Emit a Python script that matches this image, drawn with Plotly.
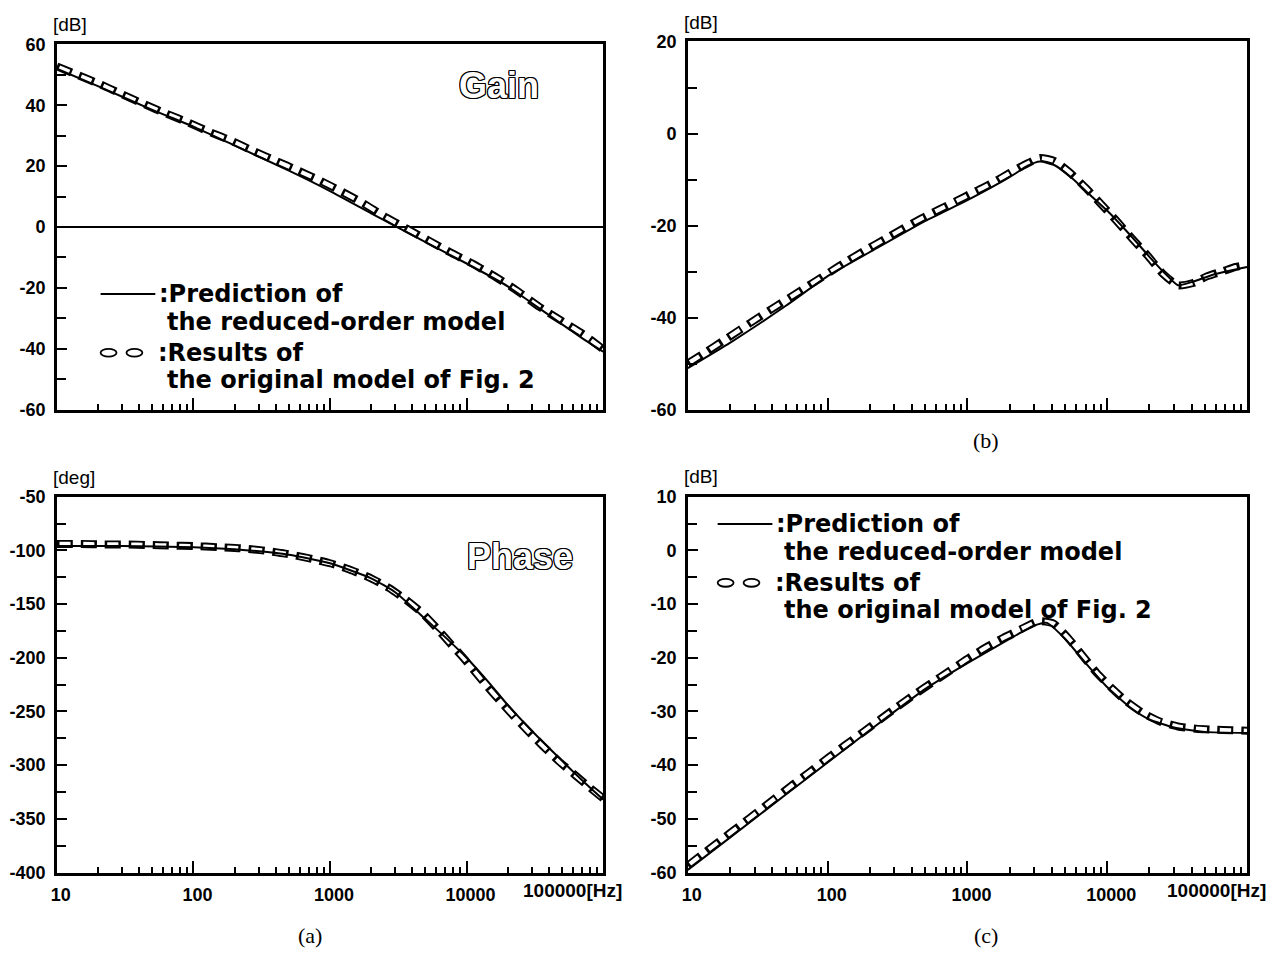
import plotly.graph_objects as go

# ---------------- data ----------------
# (a) Gain [dB]
gain_freq = [10, 20, 50, 100, 200, 500, 1000, 2000, 3000, 5000, 10000, 20000, 30000, 50000, 70000, 100000]
gain_pred = [52, 46.3, 38.5, 33, 26.8, 18.5, 11.8, 4.5, 0.3, -5, -12, -19.5, -25, -32, -36.5, -41]
gain_orig_freq = [10, 14.5, 21, 30, 44, 63, 92, 130, 190, 280, 400, 580, 840, 1200, 1750, 2500,
                  3700, 5300, 7700, 11000, 16000, 23000, 34000, 49000, 71000, 100000]
gain_orig = [52.8, 49.8, 46.8, 43.6, 40.3, 37.3, 34.3, 31.3, 28.3, 24.8, 21.8, 18.6, 15.3, 11.8, 7.8, 3.5,
             -0.7, -4.5, -8.5, -12, -16.2, -20.7, -26.2, -30.7, -35.2, -40.2]

# (a) Phase [deg]
phase_freq = [10, 30, 100, 200, 500, 1000, 2000, 3000, 5000, 7000, 10000, 15000, 20000, 30000, 50000, 70000, 100000]
phase_pred = [-96, -96, -97, -99, -104, -112, -126, -139, -164, -181, -200, -225, -244, -268, -296, -314, -332]
phase_orig_freq = [10, 15, 22, 32, 47, 68, 100, 150, 220, 320, 470, 680, 1000, 1400, 2000, 2700, 3600,
                   4700, 6000, 7500, 9300, 11500, 14000, 17500, 22000, 28000, 36000, 47000, 62000, 80000, 100000]
phase_orig = [-94, -94, -94.5, -94.5, -95, -95.5, -96, -97, -98, -100, -103, -107, -112, -118, -126, -135, -146,
              -158, -172, -186, -199, -213, -226, -240, -254, -268, -282, -296, -309, -321, -331]

# (b) [dB]
b_freq = [10, 20, 50, 100, 200, 500, 1000, 2000, 2700, 3300, 4200, 5500, 7500, 10000, 15000, 20000,
          27000, 32000, 40000, 60000, 100000]
b_pred = [-51, -45.5, -37.5, -31, -25.8, -19, -14.5, -9.5, -7, -6.1, -6.9, -9.5, -13.3, -16.8, -22.5, -26.8,
          -31, -33, -32.3, -30.5, -29]
b_orig_freq = [10, 13.5, 18, 24, 32, 43, 58, 78, 105, 140, 190, 255, 340, 460, 620, 830, 1100, 1500,
               2000, 2600, 3300, 4200, 5400, 7000, 9000, 11500, 15000, 19500, 25000, 32000, 41000,
               52000, 66000, 83000, 100000]
b_orig = [-50, -47.5, -45, -42.5, -40, -37.5, -35, -32.5, -30, -27.6, -25.2, -23, -20.8, -18.6, -16.6,
          -14.7, -12.8, -10.8, -8.6, -6.7, -5.3, -6, -8.5, -11.8, -15.3, -18.8, -22.8, -26.6, -30.5, -33,
          -32.5, -31, -30, -29, -28.5]

# (c) [dB]
c_freq = [10, 20, 50, 100, 200, 500, 1000, 2000, 3000, 3700, 5000, 7000, 10000, 15000, 20000, 30000, 50000, 100000]
c_pred = [-59.5, -53.5, -45.5, -39.5, -33.5, -25.8, -21, -16.5, -14, -13.5, -16.5, -21, -25.5, -29.5, -31.5, -33, -33.8, -34]
c_orig_freq = [10, 13.3, 17.8, 23.7, 31.6, 42, 56, 75, 100, 133, 178, 237, 316, 420, 560, 750, 1000, 1350,
               1800, 2400, 3200, 4100, 5200, 6600, 8400, 10700, 13800, 18000, 24000, 32000, 43000, 58000,
               78000, 100000]
c_orig = [-58.7, -56.2, -53.7, -51.2, -48.7, -46.2, -43.7, -41.2, -38.7, -36.3, -33.9, -31.5, -29.1, -26.8,
          -24.6, -22.4, -20.2, -18.1, -16.3, -14.7, -13.2, -13.6, -16.2, -19.5, -22.8, -25.6, -28.2, -30.3,
          -31.9, -32.8, -33.2, -33.4, -33.5, -33.6]

x_major = [10, 100, 1000, 10000, 100000]
x_labels = ["10", "100", "1000", "10000", ""]
x_minor = [k * m for m in [10, 100, 1000, 10000] for k in range(2, 10)]

gain_ticks = [60, 40, 20, 0, -20, -40, -60]
b_ticks = [20, 0, -20, -40, -60]
phase_ticks = [-50, -100, -150, -200, -250, -300, -350, -400]
c_ticks = [10, 0, -10, -20, -30, -40, -50, -60]

# ---------------- layout helpers ----------------
W, H = 1270, 947          # page body has an 8 px margin
OFF = 8
def px(x):
    return (x - OFF) / W
def py(y):
    return 1 - (y - OFF) / H

tickfont = dict(family="Liberation Sans, Arial, sans-serif", size=18, color="black", weight="bold")

def xaxis(dom, anchor, labels):
    return dict(
        type="log", range=[1, 5], domain=[px(dom[0]), px(dom[1])], anchor=anchor,
        showline=True, linecolor="black", linewidth=2.5, mirror=True,
        ticks="inside", ticklen=12, tickwidth=2, tickcolor="black",
        tickmode="array", tickvals=x_major, ticktext=x_labels,
        showticklabels=labels, tickfont=tickfont, ticklabelstandoff=4, ticklabelshift=4,
        minor=dict(ticks="inside", ticklen=6, tickwidth=1.5, tickcolor="black", tickvals=x_minor),
        showgrid=False, zeroline=False,
    )

def yaxis(dom, anchor, rng, ticks, step, zero=False):
    return dict(
        range=rng, domain=[py(dom[1]), py(dom[0])], anchor=anchor,
        showline=True, linecolor="black", linewidth=2.5, mirror=True,
        ticks="inside", ticklen=10, tickwidth=2, tickcolor="black",
        tickmode="array", tickvals=ticks, ticktext=[str(v) for v in ticks],
        tickfont=tickfont, ticklabelstandoff=5,
        minor=dict(ticks="inside", ticklen=9, tickwidth=1.5, tickcolor="black", dtick=step / 2, tick0=0),
        showgrid=False, zeroline=zero, zerolinecolor="black", zerolinewidth=2,
    )

fig = go.Figure()

solid = dict(color="black", width=2, shape="spline", smoothing=0.5)
outer = dict(color="black", width=8, dash="16px,8px", shape="spline", smoothing=0.5)
inner = dict(color="white", width=4.2, dash="0px,2.5px,11px,10.5px", shape="spline", smoothing=0.5)

panels = [
    (gain_freq, gain_pred, gain_orig_freq, gain_orig, "x", "y"),
    (b_freq, b_pred, b_orig_freq, b_orig, "x2", "y2"),
    (phase_freq, phase_pred, phase_orig_freq, phase_orig, "x3", "y3"),
    (c_freq, c_pred, c_orig_freq, c_orig, "x4", "y4"),
]
for f, p, fo, o, xa, ya in panels:
    # original model: hollow dashes
    fig.add_trace(go.Scatter(x=fo, y=o, mode="lines", line=outer, xaxis=xa, yaxis=ya,
                             showlegend=False, hoverinfo="skip"))
    fig.add_trace(go.Scatter(x=fo, y=o, mode="lines", line=inner, xaxis=xa, yaxis=ya,
                             showlegend=False, hoverinfo="skip"))
    # reduced-order model prediction: solid line
    fig.add_trace(go.Scatter(x=f, y=p, mode="lines", line=solid, xaxis=xa, yaxis=ya,
                             showlegend=False, hoverinfo="skip"))

LEFT = (51, 600)
RIGHT = (685, 1247)
TOP_A = (35, 408)
TOP_B = (32, 408)
BOT = (497, 881)
fig.update_layout(
    width=W, height=H, margin=dict(l=0, r=0, t=0, b=0),
    paper_bgcolor="white", plot_bgcolor="white", showlegend=False,
    xaxis=xaxis(LEFT, "y", False),
    yaxis=yaxis(TOP_A, "x", [-60, 60], gain_ticks, 20, zero=True),
    xaxis2=xaxis(RIGHT, "y2", False),
    yaxis2=yaxis(TOP_B, "x2", [-60, 20], b_ticks, 20),
    xaxis3=xaxis(LEFT, "y3", True),
    yaxis3=yaxis(BOT, "x3", [-400, -50], phase_ticks, 50),
    xaxis4=xaxis(RIGHT, "y4", True),
    yaxis4=yaxis(BOT, "x4", [-60, 10], c_ticks, 10),
)

ann = []
unitfont = dict(family="Liberation Sans, Arial, sans-serif", size=19, color="black")
for text, x, y in [("[dB]", 45, TOP_A[0] - 20), ("[dB]", 679, TOP_B[0] - 19),
                   ("[deg]", 45, BOT[0] - 20), ("[dB]", 679, BOT[0] - 21)]:
    ann.append(dict(text=text, x=px(x), y=py(y), xref="paper", yref="paper",
                    xanchor="left", yanchor="middle", showarrow=False, font=unitfont))

# "100000[Hz]" labels
hzfont = dict(tickfont, size=19)
for xa, ya in [("x3", "y3"), ("x4", "y4")]:
    ann.append(dict(text="100000[Hz]", x=1, y=0, xref=xa + " domain", yref=ya + " domain",
                    xanchor="right", yanchor="top", xshift=21, yshift=-5, showarrow=False, font=hzfont))

# Gain / Phase outlined titles
outline = ("1px 1px 0 #000, -1px -1px 0 #000, 1px -1px 0 #000, -1px 1px 0 #000, "
           "0 1px 0 #000, 0 -1px 0 #000, 1px 0 0 #000, -1px 0 0 #000")
titlefont = dict(family="Liberation Sans, Arial, sans-serif", size=36, color="white",
                 weight="bold", shadow=outline)
for t, x, y in [("Gain", 495, 77), ("Phase", 516, 558)]:
    ann.append(dict(text=t, x=px(x), y=py(y), xref="paper", yref="paper", xanchor="center",
                    yanchor="middle", showarrow=False, font=titlefont))

# legend texts
legfont = dict(family="DejaVu Sans, sans-serif", size=24, color="black", weight="bold")
for (x0, y0) in [(151, 290), (771, 525)]:
    rows = [(":Prediction of", x0 + 1, y0), ("the reduced-order model", x0 + 9, y0 + 29),
            (":Results of", x0, y0 + 60), ("the original model of Fig. 2", x0 + 9, y0 + 88)]
    for t, x, y in rows:
        ann.append(dict(text=t, x=px(x), y=py(y), xref="paper", yref="paper", xanchor="left",
                        yanchor="middle", showarrow=False, font=legfont))

# captions
capfont = dict(family="Liberation Serif, Times New Roman, serif", size=22, color="black")
for t, x, y in [("(a)", 305, 945), ("(b)", 985, 440), ("(c)", 985, 945)]:
    ann.append(dict(text=t, x=px(x), y=py(y), xref="paper", yref="paper", xanchor="center",
                    yanchor="middle", showarrow=False, font=capfont))

fig.update_layout(annotations=ann)

# legend samples
shapes = []
for (lx, ly) in [(95, 290), (715, 525)]:
    shapes.append(dict(type="line", xref="paper", yref="paper", x0=px(lx), x1=px(lx + 55),
                       y0=py(ly), y1=py(ly), line=dict(color="black", width=2)))
    ey = ly + 60
    for ex in [lx + 8, lx + 34]:
        shapes.append(dict(type="circle", xref="paper", yref="paper", x0=px(ex - 8), x1=px(ex + 8),
                           y0=py(ey - 4), y1=py(ey + 4), line=dict(color="black", width=1.8)))
fig.update_layout(shapes=shapes)

fig.write_html("out.html")
